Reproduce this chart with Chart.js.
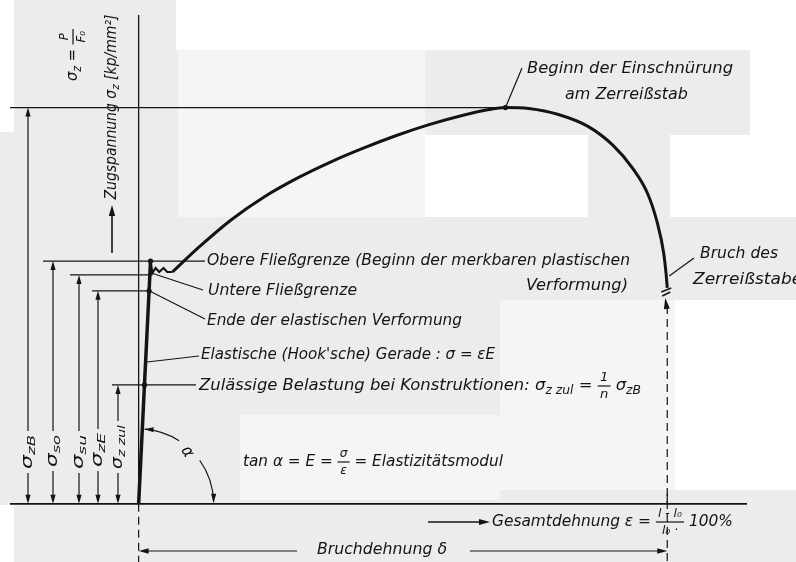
<!DOCTYPE html>
<html lang="de">
<head>
<meta charset="utf-8">
<title>Spannungs-Dehnungs-Diagramm</title>
<script src="https://cdn.jsdelivr.net/npm/chart.js@4.4.1/dist/chart.umd.min.js"></script>
<style>
  html, body { margin: 0; padding: 0; background: #fff; }
  #wrap { width: 796px; height: 562px; position: relative; }
</style>
</head>
<body>
<div id="wrap"><canvas id="chart"></canvas></div>
<script>
// Zugversuch: Spannung sigma_z (kp/mm²) über Gesamtdehnung epsilon (%)
const elasticStrain = [0, 2.25];
const elasticStress = [0, 24.5];

// Fließbereich (obere -> untere Fließgrenze, Zickzack)
const yieldStrain = [2.25, 2.6, 3.2, 3.9, 4.7, 5.4, 6.4];
const yieldStress = [24.5, 23.3, 23.8, 23.4, 23.8, 23.4, 23.4];

// Verfestigung, Einschnürung, Bruch
const plasticStrain = [6.4, 11.4, 17.6, 23.8, 30.1, 36.3, 42.5, 48.9, 55.1, 61.2, 66.3, 69.4, 73.8, 79.4, 85.0, 89.7, 93.4, 96.3, 98.1, 99.3, 99.8, 100];
const plasticStress = [23.4, 25.9, 28.7, 31.0, 32.9, 34.5, 35.9, 37.2, 38.3, 39.2, 39.8, 40.0, 39.9, 39.3, 38.1, 36.2, 33.9, 31.3, 28.4, 25.4, 23.1, 21.8];
const peakIndex = 11;

// Kennwerte links: sigma_zB, sigma_so, sigma_su, sigma_zE, sigma_zzul
const levelSubs = ['zB', 'so', 'su', 'zE', 'z zul'];
const levelStress = [40.0, 24.5, 23.1, 21.5, 12.0];
const levelStrain = [69.4, 2.6, 2.6, 1.97, 1.1];

const fractureStrain = 100;

const INK = '#141414';
const FACE = "'Liberation Sans Narrow', 'DejaVu Sans Condensed', 'Liberation Sans', sans-serif";
const font = size => `italic ${size}px ${FACE}`;

function toPoints(xs, ys) {
  return xs.map((x, i) => ({ x: x, y: ys[i] }));
}

// --- small drawing helpers --------------------------------------------
function seg(ctx, x1, y1, x2, y2, lw = 1.2, dash = null) {
  ctx.save();
  ctx.strokeStyle = INK;
  ctx.lineWidth = lw;
  if (dash) ctx.setLineDash(dash);
  ctx.beginPath();
  ctx.moveTo(x1, y1);
  ctx.lineTo(x2, y2);
  ctx.stroke();
  ctx.restore();
}

function head(ctx, x, y, ang, len = 9, half = 2.6) {
  ctx.save();
  ctx.fillStyle = INK;
  ctx.translate(x, y);
  ctx.rotate(ang);
  ctx.beginPath();
  ctx.moveTo(0, 0);
  ctx.lineTo(-len, -half);
  ctx.lineTo(-len, half);
  ctx.closePath();
  ctx.fill();
  ctx.restore();
}

function richWidth(ctx, parts, size) {
  let w = 0;
  for (const p of parts) {
    if (typeof p === 'string') {
      ctx.font = font(size);
      w += ctx.measureText(p).width;
    } else if (p.sub) {
      ctx.font = font(size * 0.75);
      w += ctx.measureText(p.sub).width;
    } else if (p.frac) {
      ctx.font = font(size * 0.8);
      w += Math.max(ctx.measureText(p.frac[0]).width, ctx.measureText(p.frac[1]).width) + 4;
    }
  }
  return w;
}

function drawRich(ctx, parts, size) {
  let x = 0;
  ctx.fillStyle = INK;
  ctx.textBaseline = 'middle';
  ctx.textAlign = 'left';
  for (const p of parts) {
    if (typeof p === 'string') {
      ctx.font = font(size);
      ctx.fillText(p, x, 0);
      x += ctx.measureText(p).width;
    } else if (p.sub) {
      ctx.font = font(size * 0.75);
      ctx.fillText(p.sub, x, size * 0.3);
      x += ctx.measureText(p.sub).width;
    } else if (p.frac) {
      ctx.font = font(size * 0.8);
      const a = ctx.measureText(p.frac[0]).width;
      const b = ctx.measureText(p.frac[1]).width;
      const fw = Math.max(a, b) + 4;
      ctx.fillText(p.frac[0], x + (fw - a) / 2, -size * 0.5);
      ctx.fillText(p.frac[1], x + (fw - b) / 2, size * 0.55);
      ctx.fillRect(x, -0.6, fw, 1.2);
      x += fw;
    }
  }
}

// text squeezed/stretched to a given length; rot for vertical labels
function label(ctx, parts, x, y, w, size = 16, rot = 0, center = false) {
  const mw = richWidth(ctx, parts, size);
  const s = w ? w / mw : 1;
  ctx.save();
  ctx.translate(x, y);
  if (rot) ctx.rotate(rot);
  ctx.scale(s, 1);
  if (center) ctx.translate(-mw / 2, 0);
  drawRich(ctx, parts, size);
  ctx.restore();
}

// --- paper background (scan) ------------------------------------------
const paperPlugin = {
  id: 'paper',
  beforeDraw(chart) {
    const ctx = chart.ctx;
    ctx.save();
    ctx.fillStyle = '#ececec';
    ctx.fillRect(0, 0, chart.width, chart.height);
    ctx.fillStyle = '#ffffff';
    ctx.fillRect(176, 0, 620, 50);
    ctx.fillRect(0, 0, 14, 132);
    ctx.fillRect(425, 135, 163, 82);
    ctx.fillRect(670, 135, 126, 82);
    ctx.fillRect(750, 50, 46, 85);
    ctx.fillRect(675, 300, 121, 190);
    ctx.fillRect(0, 505, 14, 57);
    ctx.fillStyle = '#f5f5f5';
    ctx.fillRect(178, 50, 247, 167);
    ctx.fillRect(500, 300, 175, 190);
    ctx.fillRect(240, 415, 260, 85);
    ctx.restore();
  }
};

// --- construction lines, dimensions and lettering ---------------------
const drawingPlugin = {
  id: 'drawing',
  afterDatasetsDraw(chart) {
    const ctx = chart.ctx;
    const X = v => chart.scales.x.getPixelForValue(v);
    const Y = v => chart.scales.y.getPixelForValue(v);
    const x0 = X(0), y0 = Y(0);
    const xf = X(fractureStrain);

    // axes
    seg(ctx, 10, y0, 747, y0, 1.7);
    seg(ctx, x0, 15, x0, y0, 1.3);
    seg(ctx, x0, y0, x0, 562, 1.2, [8, 5]);

    // fracture: dashed line up to the broken end of the curve
    seg(ctx, xf, 306, xf, 562, 1.2, [8, 5]);
    head(ctx, xf - 2, 298, -Math.PI / 2 - 0.15, 11, 3);
    seg(ctx, xf - 6, 292, xf + 4, 288, 1.6);
    seg(ctx, xf - 5, 296, xf + 3, 292, 1.6);
    seg(ctx, xf, y0 - 10, xf, y0, 1.2);

    // stress levels with dimension arrows on the left
    const dimX = [28, 53, 79, 98, 118];
    const startX = [10, 43, 70, 92, 112];
    const midY = [452, 451, 452, 450, 447];
    const half = [17, 16, 17, 17, 22];
    levelStress.forEach((s, i) => {
      const y = Y(s);
      seg(ctx, startX[i], y, X(levelStrain[i]), y, 1.2);
      const dx = dimX[i];
      seg(ctx, dx, y + 4, dx, midY[i] - half[i] - 4, 1.2);
      head(ctx, dx, y, -Math.PI / 2);
      seg(ctx, dx, midY[i] + half[i] + 4, dx, y0 - 4, 1.2);
      head(ctx, dx, y0, Math.PI / 2);
      label(ctx, ['σ', { sub: levelSubs[i] }], dx, midY[i], half[i] * 2, 15, -Math.PI / 2, true);
    });

    // leaders to the curve points
    const yo = Y(levelStress[1]);
    seg(ctx, X(2.6), yo, 205, yo);
    seg(ctx, X(2.4), Y(23.3), 203, 290);
    seg(ctx, X(levelStrain[3]), Y(levelStress[3]), 205, 319);
    seg(ctx, X(1.6), 362, 199, 356);
    seg(ctx, X(levelStrain[4]), Y(levelStress[4]), 196, Y(levelStress[4]));
    seg(ctx, X(plasticStrain[peakIndex]), Y(plasticStress[peakIndex]), 522, 68);
    seg(ctx, xf + 2, 276, 694, 258);

    // angle alpha between the Hooke line and the strain axis
    const r = 75;
    const a1 = Math.atan2(Y(elasticStress[1]) - y0, X(elasticStrain[1]) - x0);
    ctx.save();
    ctx.strokeStyle = INK;
    ctx.lineWidth = 1.2;
    ctx.beginPath();
    ctx.arc(x0, y0, r, a1 + 0.03, -1.0);
    ctx.stroke();
    ctx.beginPath();
    ctx.arc(x0, y0, r, -0.62, -0.02);
    ctx.stroke();
    ctx.restore();
    const ta = a1 + 0.03;
    head(ctx, x0 + r * Math.cos(ta), y0 + r * Math.sin(ta), Math.atan2(-Math.cos(ta), Math.sin(ta)), 9, 2.6);
    head(ctx, x0 + r, y0 - 1, Math.PI / 2, 9, 2.6);
    label(ctx, ['α'], 187, 452, 0, 17, Math.PI / 3, true);

    // y axis title and arrow
    label(ctx, ['Zugspannung σ', { sub: 'z' }, ' [kp/mm²]'], 112, 107, 185, 15, -Math.PI / 2, true);
    seg(ctx, 112, 253, 112, 212, 1.6);
    head(ctx, 112, 205, -Math.PI / 2, 11, 3.2);
    label(ctx, ['σ', { sub: 'z' }, ' = ', { frac: ['P', 'F₀'] }], 73, 55, 52, 16, -Math.PI / 2, true);

    // annotations along the curve
    label(ctx, ['Obere Fließgrenze (Beginn der merkbaren plastischen'], 207, 261, 423);
    label(ctx, ['Verformung)'], 526, 286, 102);
    label(ctx, ['Untere Fließgrenze'], 208, 291, 149);
    label(ctx, ['Ende der elastischen Verformung'], 207, 321, 255);
    label(ctx, ['Elastische (Hook\'sche) Gerade : σ = εE'], 201, 355, 294);
    label(ctx, ['Zulässige Belastung bei Konstruktionen: σ', { sub: 'z zul' }, ' = ', { frac: ['1', 'n'] }, ' σ', { sub: 'zB' }], 199, 386, 442);
    label(ctx, ['tan α = E = ', { frac: ['σ', 'ε'] }, ' = Elastizitätsmodul'], 243, 462, 260);
    label(ctx, ['Beginn der Einschnürung'], 527, 69, 206);
    label(ctx, ['am Zerreißstab'], 565, 95, 123);
    label(ctx, ['Bruch des'], 700, 254, 78);
    label(ctx, ['Zerreißstabes'], 693, 280, 118);

    // strain axis title
    seg(ctx, 428, 522, 482, 522, 1.4);
    head(ctx, 490, 522, 0, 11, 3);
    label(ctx, ['Gesamtdehnung ε = ', { frac: ['l - l₀', 'l₀ ·'] }, ' 100%'], 492, 522, 241);

    // elongation at fracture
    seg(ctx, x0 + 6, 551, 297, 551, 1.2);
    head(ctx, x0, 551, Math.PI, 10, 2.8);
    label(ctx, ['Bruchdehnung δ'], 382, 550, 130, 16, 0, true);
    seg(ctx, 470, 551, xf - 6, 551, 1.2);
    head(ctx, xf, 551, 0, 10, 2.8);
  }
};

const ctx = document.getElementById('chart').getContext('2d');
new Chart(ctx, {
  type: 'line',
  data: {
    datasets: [
      {
        label: 'Hookesche Gerade',
        data: toPoints(elasticStrain, elasticStress),
        borderColor: INK,
        borderWidth: 3.5,
        pointRadius: 0,
        tension: 0
      },
      {
        label: 'Fließbereich',
        data: toPoints(yieldStrain, yieldStress),
        borderColor: INK,
        borderWidth: 2.2,
        pointRadius: 0,
        tension: 0
      },
      {
        label: 'Verfestigung und Einschnürung',
        data: toPoints(plasticStrain, plasticStress),
        borderColor: INK,
        borderWidth: 3,
        pointRadius: 0,
        cubicInterpolationMode: 'monotone'
      },
      {
        label: 'Kennpunkte',
        data: [
          { x: plasticStrain[peakIndex], y: plasticStress[peakIndex] },
          { x: elasticStrain[1], y: elasticStress[1] },
          { x: levelStrain[3], y: levelStress[3] },
          { x: levelStrain[4], y: levelStress[4] }
        ],
        showLine: false,
        pointRadius: 2.6,
        pointBackgroundColor: INK,
        pointBorderWidth: 0
      }
    ]
  },
  options: {
    responsive: true,
    maintainAspectRatio: false,
    animation: false,
    layout: { padding: 0 },
    scales: {
      x: { type: 'linear', display: false, min: -25.47, max: 123.6 },
      y: { type: 'linear', display: false, min: -5.47, max: 50.45 }
    },
    plugins: {
      legend: { display: false },
      tooltip: { enabled: false }
    }
  },
  plugins: [paperPlugin, drawingPlugin]
});
</script>
</body>
</html>
